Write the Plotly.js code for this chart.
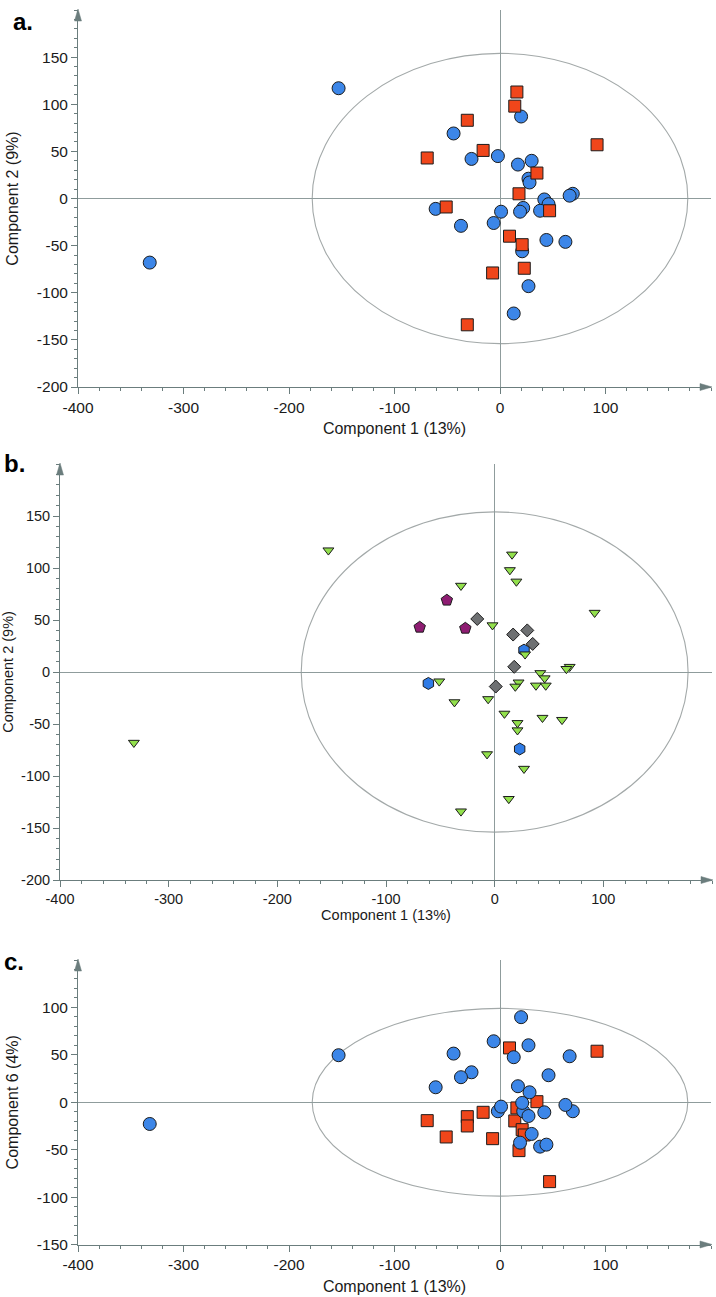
<!DOCTYPE html>
<html>
<head>
<meta charset="utf-8">
<script src="https://cdn.plot.ly/plotly-3.0.1.min.js"></script>
<style>
html,body{margin:0;padding:0;background:#fff;}
#chart{width:716px;height:1297px;}
</style>
</head>
<body>
<div id="chart"></div>
<script>
// ---- Data (41 samples) ----
const pc1 = [-153,-332,20,-44,-27,-2,17,30,27,28,69,66,42,46,38,22,19,1,-61,-37,-6,21,44,62,27,13,
             16,14,-31,-16,-69,92,35,18,-51,47,9,21,23,-7,-31];
const pc2 = [117,-68,87,69,42,45,36,40,21,17,5,3,-1,-6,-13,-10,-14,-14,-11,-29,-26,-56,-44,-46,-93,-122,
             113,98,83,51,43,57,27,5,-9,-13,-40,-49,-74,-79,-134];
const pc6 = [49.6,-22.9,89.7,51.3,31.6,-9.5,16.9,-33.4,60.1,10.5,-9.5,48.5,-10.6,28.5,-46.8,-9.5,-42.6,-4.6,15.8,26.4,64.3,-0.7,-44.7,-2.8,-14.5,47.5,
             -6,-19.7,-15.2,-10.6,-19.4,53.8,0.6,-51,-36.6,-83.7,57.3,-28.9,-34.5,-38.4,-25];
// class for panels a and c: 1 = blue circle group, 2 = red square group
const classAC = [1,1,1,1,1,1,1,1,1,1,1,1,1,1,1,1,1,1,1,1,1,1,1,1,1,1,
                 2,2,2,2,2,2,2,2,2,2,2,2,2,2,2];
// class for panel b: T = triangle, P = pentagon, D = diamond, H = hexagon
const classB = ['T','T','T','P','P','T','D','D','H','T','T','T','T','T','T','T','T','D','H','T','T','T','T','T','T','T',
                'T','T','T','D','P','T','D','D','T','T','T','T','H','T','T'];
// Hotelling ellipse semi-axes [x, y] for each panel
const ellipseA = [178, 154];
const ellipseB = [178, 154];
const ellipseC = [178, 99];
const xTicks = [-400,-300,-200,-100,0,100];
const yTicksAB = [-200,-150,-100,-50,0,50,100,150];
const yTicksC = [-150,-100,-50,0,50,100];
const xTitle = 'Component 1 (13%)';
const yTitleA = 'Component 2 (9%)';
const yTitleB = 'Component 2 (9%)';
const yTitleC = 'Component 6 (4%)';

// ---- Styling ----
const AXC = '#6b7d7d';
const ZC = '#8f9c9c';
const FONT = 'Liberation Sans, Arial, Helvetica, sans-serif';
const TXT = '#1a1a1a';

function pick(arr, mask){ return arr.filter((_,i)=>mask[i]); }
function subset(xs, ys, cls, val){
  const m = cls.map(c=>c===val);
  return {x: pick(xs,m), y: pick(ys,m)};
}

const traces = [];
function addTrace(xs, ys, cls, val, xa, ya, symbol, size, color){
  const s = subset(xs, ys, cls, val);
  traces.push({type:'scatter', mode:'markers', x:s.x, y:s.y, xaxis:xa, yaxis:ya,
    cliponaxis:false, showlegend:false, hoverinfo:'skip',
    marker:{symbol:symbol, size:size, color:color, line:{color:'#1c1c1c', width:1}}});
}
// Panel a
addTrace(pc1, pc2, classAC, 1, 'x', 'y', 'circle', 13, '#3c86e8');
addTrace(pc1, pc2, classAC, 2, 'x', 'y', 'square', 12, '#f0461a');
// Panel b
addTrace(pc1, pc2, classB, 'H', 'x2', 'y2', 'hexagon', 12, '#2f7be6');
addTrace(pc1, pc2, classB, 'D', 'x2', 'y2', 'diamond', 10, '#6e7072');
addTrace(pc1, pc2, classB, 'P', 'x2', 'y2', 'pentagon', 12, '#8e1c72');
addTrace(pc1, pc2, classB, 'T', 'x2', 'y2', 'triangle-down', 9.5, '#92e04c');
// Panel c
addTrace(pc1, pc6, classAC, 2, 'x3', 'y3', 'square', 12, '#f0461a');
addTrace(pc1, pc6, classAC, 1, 'x3', 'y3', 'circle', 13, '#3c86e8');

function xAxis(domain, anchor, fs, tfs, standoff){
  return {domain:domain, anchor:anchor, range:[-400,200], autorange:false, fixedrange:true,
    showline:true, linecolor:AXC, linewidth:1, mirror:false,
    ticks:'outside', ticklen:6, tickwidth:1, tickcolor:AXC,
    tickmode:'array', tickvals:xTicks, ticktext:xTicks.map(String),
    tickfont:{family:FONT, size:fs, color:TXT},
    minor:{dtick:20, tick0:0, ticks:'outside', ticklen:3, tickwidth:1, tickcolor:AXC, showgrid:false},
    showgrid:false, zeroline:true, zerolinecolor:ZC, zerolinewidth:1, automargin:false,
    title:{text:xTitle, font:{family:FONT, size:tfs, color:TXT}, standoff:standoff}};
}
function yAxis(domain, anchor, range, ticks, title, fs, tfs, standoff){
  return {domain:domain, anchor:anchor, range:range, autorange:false, fixedrange:true,
    showline:true, linecolor:AXC, linewidth:1, mirror:false,
    ticks:'outside', ticklen:6, tickwidth:1, tickcolor:AXC,
    tickmode:'array', tickvals:ticks, ticktext:ticks.map(String),
    tickfont:{family:FONT, size:fs, color:TXT},
    minor:{dtick:10, tick0:0, ticks:'outside', ticklen:3, tickwidth:1, tickcolor:AXC, showgrid:false},
    showgrid:false, zeroline:true, zerolinecolor:ZC, zerolinewidth:1, automargin:false,
    title:{text:title, font:{family:FONT, size:tfs, color:TXT}, standoff:standoff}};
}
const H = 1297, W = 716;
function px2fx(px){ return px / W; }
function py2fy(py){ return 1 - py / H; }

const layout = {
  width:W, height:H, margin:{l:0,r:0,t:0,b:0},
  paper_bgcolor:'#fff', plot_bgcolor:'rgba(0,0,0,0)',
  showlegend:false,
  xaxis: xAxis([px2fx(78), px2fx(711)], 'y', 15.5, 16, 8),
  yaxis: yAxis([py2fy(387), py2fy(10)], 'x', [-200,200], yTicksAB, yTitleA, 15.5, 16, 14),
  xaxis2: xAxis([px2fx(60), px2fx(712)], 'y2', 14.5, 14.5, 3),
  yaxis2: yAxis([py2fy(880), py2fy(464)], 'x2', [-200,200], yTicksAB, yTitleB, 14.5, 14.5, 4),
  xaxis3: xAxis([px2fx(78), px2fx(711)], 'y3', 15.5, 16, 8),
  yaxis3: yAxis([py2fy(1244.5), py2fy(960)], 'x3', [-150,150], yTicksC, yTitleC, 15.5, 16, 14),
  shapes: [],
  annotations: []
};

const ellipses = [[ellipseA,'x','y'],[ellipseB,'x2','y2'],[ellipseC,'x3','y3']];
ellipses.forEach(([e, xr, yr])=>{
  layout.shapes.push({type:'circle', xref:xr, yref:yr, x0:-e[0], x1:e[0], y0:-e[1], y1:e[1],
    line:{color:'#a3a9a9', width:1.1}, layer:'below'});
});
// axis arrowheads (paper-referenced so they are not clipped)
[['xaxis','yaxis'],['xaxis2','yaxis2'],['xaxis3','yaxis3']].forEach(([xk,yk])=>{
  const xd = layout[xk].domain, yd = layout[yk].domain;
  layout.shapes.push({type:'path', xref:'paper', yref:'paper', xsizemode:'pixel', ysizemode:'pixel',
    xanchor:xd[1], yanchor:yd[0], path:'M-11,-3.5 L1,0 L-11,3.5 Z', fillcolor:AXC, line:{color:AXC, width:0.5}, layer:'above'});
  layout.shapes.push({type:'path', xref:'paper', yref:'paper', xsizemode:'pixel', ysizemode:'pixel',
    xanchor:xd[0], yanchor:yd[1], path:'M-3.5,-11 L0,1 L3.5,-11 Z', fillcolor:AXC, line:{color:AXC, width:0.5}, layer:'above'});
});
// panel labels
[['a.',23,21],['b.',15,463],['c.',14,961]].forEach(([t,x,y])=>{
  layout.annotations.push({text:'<b>'+t+'</b>', xref:'paper', yref:'paper', x:px2fx(x), y:py2fy(y),
    xanchor:'center', yanchor:'middle', showarrow:false, font:{family:FONT, size:24, color:'#000'}});
});

Plotly.newPlot('chart', traces, layout, {staticPlot:true, displayModeBar:false});
</script>
</body>
</html>
